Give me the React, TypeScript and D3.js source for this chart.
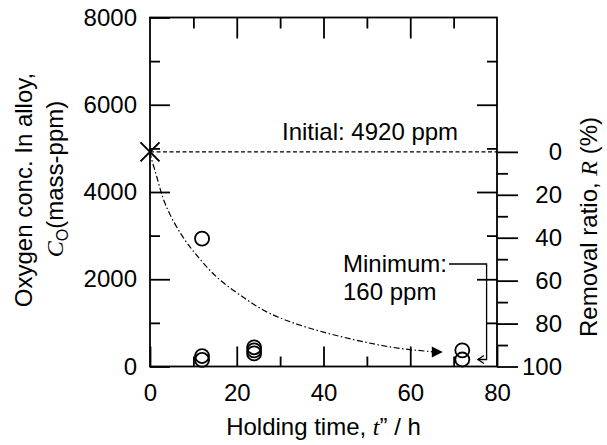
import React, { useEffect, useRef } from "react";
import * as d3 from "d3";

// measured samples
const holdTimes = [12, 12, 12, 24, 24, 24, 72, 72];
const oxygenPpm = [2930, 240, 150, 440, 370, 300, 370, 160];

const initialPpm = 4920;
const minimumPpm = 160;

// hand-drawn guide curve
const guideTime = [0, 0.6, 1.5, 3.1, 7.3, 11.6, 16, 22.4, 26.9, 36.1, 46.9, 56.1, 64.6, 67.5];
const guidePpm = [4920, 4650, 4400, 3740, 2970, 2440, 1960, 1525, 1220, 880, 610, 420, 343, 335];

const xMajor = [0, 20, 40, 60, 80];
const xMinor = [10, 30, 50, 70];
const yMajor = [0, 2000, 4000, 6000, 8000];
const yMinor = [1000, 3000, 5000, 7000];
const rMajor = [0, 20, 40, 60, 80, 100];
const rMinor = [10, 30, 50, 70, 90];

const FONT = "'Liberation Sans', Arial, Helvetica, sans-serif";
const SERIF = "'Liberation Serif', 'Times New Roman', serif";

export default function App() {
  const svgRef = useRef<SVGSVGElement>(null);

  useEffect(() => {
    const width = 607;
    const height = 445;
    const left = 150, right = 497, top = 17.5, bottom = 366.5;

    const svg = d3.select(svgRef.current);
    svg.selectAll("*").remove();
    svg.attr("width", width).attr("height", height);

    const x = d3.scaleLinear().domain([0, 80]).range([left, right]);
    const y = d3.scaleLinear().domain([0, 8000]).range([bottom, top]);
    const r = d3.scaleLinear().domain([0, 100]).range([y(initialPpm), bottom]);

    const styleAxis = (g, fontSize = 24) => {
      g.select(".domain").remove();
      g.selectAll("line").attr("stroke", "#000").attr("stroke-width", 1.8);
      g.selectAll("text").attr("font-family", FONT).attr("font-size", fontSize).attr("fill", "#000");
    };

    // left axis (labels) + minor
    svg.append("g").attr("transform", `translate(${left},0)`)
      .call(d3.axisLeft(y).tickValues(yMajor).tickSize(-20).tickPadding(13).tickFormat(d3.format("d")))
      .call(styleAxis);
    svg.append("g").attr("transform", `translate(${left},0)`)
      .call(d3.axisLeft(y).tickValues(yMinor).tickSize(-10).tickFormat(() => ""))
      .call(styleAxis);

    // bottom axis
    svg.append("g").attr("transform", `translate(0,${bottom})`)
      .call(d3.axisBottom(x).tickValues(xMajor).tickSize(-20).tickPadding(17))
      .call(styleAxis);
    svg.append("g").attr("transform", `translate(0,${bottom})`)
      .call(d3.axisBottom(x).tickValues(xMinor).tickSize(-10).tickFormat(() => ""))
      .call(styleAxis);

    // top axis, ticks only
    svg.append("g").attr("transform", `translate(0,${top})`)
      .call(d3.axisTop(x).tickValues(xMajor.slice(1, -1)).tickSize(-21).tickFormat(() => ""))
      .call(styleAxis);
    svg.append("g").attr("transform", `translate(0,${top})`)
      .call(d3.axisTop(x).tickValues(xMinor).tickSize(-11).tickFormat(() => ""))
      .call(styleAxis);

    // right side: mirrored concentration ticks pointing in
    svg.append("g").attr("transform", `translate(${right},0)`)
      .call(d3.axisRight(y).tickValues([2000, 4000, 6000]).tickSize(-20).tickFormat(() => ""))
      .call(styleAxis);
    svg.append("g").attr("transform", `translate(${right},0)`)
      .call(d3.axisRight(y).tickValues(yMinor).tickSize(-10).tickFormat(() => ""))
      .call(styleAxis);

    // right side: removal ratio, pointing out
    const rAxis = svg.append("g").attr("transform", `translate(${right},0)`)
      .call(d3.axisRight(r).tickValues(rMajor).tickSize(21).tickPadding(6))
      .call(styleAxis);
    rAxis.selectAll("text").attr("text-anchor", "end").attr("x", 65);
    svg.append("g").attr("transform", `translate(${right},0)`)
      .call(d3.axisRight(r).tickValues(rMinor).tickSize(11).tickFormat(() => ""))
      .call(styleAxis);

    // frame
    svg.append("rect")
      .attr("x", left).attr("y", top)
      .attr("width", right - left).attr("height", bottom - top)
      .attr("fill", "none").attr("stroke", "#000").attr("stroke-width", 1.8);

    // initial level
    svg.append("line")
      .attr("x1", x(0)).attr("x2", x(80))
      .attr("y1", y(initialPpm)).attr("y2", y(initialPpm))
      .attr("stroke", "#000").attr("stroke-width", 1.2).attr("stroke-dasharray", "4,2.5");

    svg.append("text")
      .attr("x", 282).attr("y", 140)
      .attr("font-family", FONT).attr("font-size", 24)
      .text(`Initial: ${initialPpm} ppm`);

    // initial point (cross)
    const cx = x(0), cy = y(initialPpm), s = 9.5;
    svg.append("path")
      .attr("d", `M${cx - s},${cy - s}L${cx + s},${cy + s}M${cx - s},${cy + s}L${cx + s},${cy - s}`)
      .attr("stroke", "#000").attr("stroke-width", 2).attr("fill", "none");

    // guide curve, ending at a filled arrowhead
    const guide = guideTime.map((t, i) => [t, guidePpm[i]]);
    const tip = guide[guide.length - 1];
    const tx = x(tip[0]), ty = y(tip[1]);
    const line = d3.line()
      .x((d) => Math.min(x(d[0]), tx - 10))
      .y((d) => y(d[1]))
      .curve(d3.curveBasis);
    svg.append("path")
      .attr("d", line(guide))
      .attr("fill", "none").attr("stroke", "#000").attr("stroke-width", 1.2)
      .attr("stroke-dasharray", "6,2.5,1.5,2.5");
    svg.append("path")
      .attr("d", `M${tx},${ty}L${tx - 11},${ty - 5.5}L${tx - 11},${ty + 5.5}Z`)
      .attr("fill", "#000");

    // samples
    svg.append("g").selectAll("circle")
      .data(holdTimes.map((t, i) => [t, oxygenPpm[i]]))
      .enter().append("circle")
      .attr("cx", (d) => x(d[0])).attr("cy", (d) => y(d[1])).attr("r", 7)
      .attr("fill", "none").attr("stroke", "#000").attr("stroke-width", 1.8);

    // minimum annotation
    svg.append("text").attr("x", 343).attr("y", 272)
      .attr("font-family", FONT).attr("font-size", 24).text("Minimum:");
    svg.append("text").attr("x", 343).attr("y", 300)
      .attr("font-family", FONT).attr("font-size", 24).text(`${minimumPpm} ppm`);
    const lx = x(77.6), ax = x(75.6), ay = y(minimumPpm);
    svg.append("path")
      .attr("d", `M449,264H${lx}V${ay}H${ax}`)
      .attr("fill", "none").attr("stroke", "#000").attr("stroke-width", 1.3);
    svg.append("path")
      .attr("d", `M${ax + 6},${ay - 4}L${ax},${ay}L${ax + 6},${ay + 4}`)
      .attr("fill", "none").attr("stroke", "#000").attr("stroke-width", 1.3);

    // axis titles
    const bt = svg.append("text")
      .attr("x", (left + right) / 2).attr("y", 435)
      .attr("text-anchor", "middle")
      .attr("font-family", FONT).attr("font-size", 24);
    bt.append("tspan").text("Holding time, ");
    bt.append("tspan").attr("font-family", SERIF).attr("font-style", "italic").text("t");
    bt.append("tspan").text("\u201D / h");

    const l1 = svg.append("text")
      .attr("transform", "translate(31.5,190) rotate(-90)")
      .attr("text-anchor", "middle")
      .attr("font-family", FONT).attr("font-size", 24);
    l1.text("Oxygen conc. In alloy,");

    const l2 = svg.append("text")
      .attr("transform", "translate(63,179) rotate(-90)")
      .attr("text-anchor", "middle")
      .attr("font-family", FONT).attr("font-size", 24);
    l2.append("tspan").attr("font-family", SERIF).attr("font-style", "italic").text("C");
    l2.append("tspan").attr("font-size", 16).attr("dy", 5).text("O");
    l2.append("tspan").attr("dy", -5).text("(mass-ppm)");

    const rt = svg.append("text")
      .attr("transform", "translate(597,227) rotate(-90)")
      .attr("text-anchor", "middle")
      .attr("font-family", FONT).attr("font-size", 24);
    rt.append("tspan").text("Removal ratio, ");
    rt.append("tspan").attr("font-family", SERIF).attr("font-style", "italic").text("R");
    rt.append("tspan").text(" (%)");
  }, []);

  return (
    <div style={{ position: "fixed", left: 0, top: 0, background: "#fff" }}>
      <svg ref={svgRef}></svg>
    </div>
  );
}
